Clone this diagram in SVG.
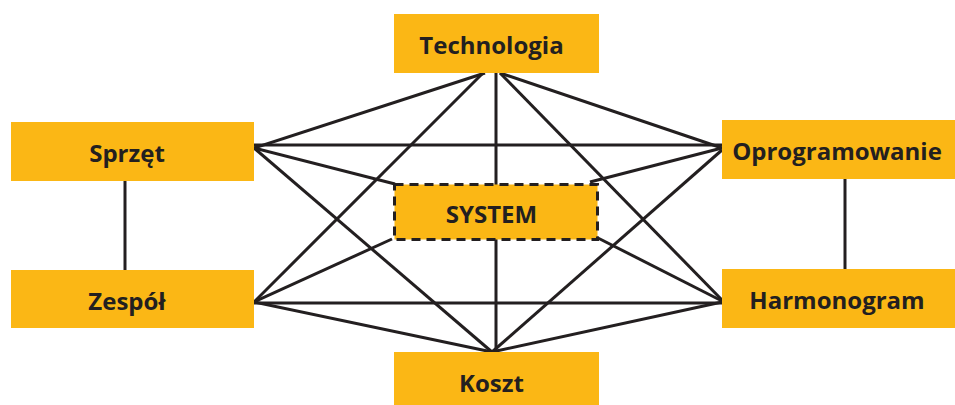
<svg xmlns="http://www.w3.org/2000/svg" width="955" height="405" viewBox="0 0 955 405">
<style>
.box{fill:#FBB715;}
.sys{fill:#FBB715;stroke:#231F20;stroke-width:3;stroke-dasharray:9 6;}
.lbl{font-family:"Open Sans","Liberation Sans",sans-serif;font-weight:700;font-size:24px;fill:#231F20;text-anchor:middle;}
#connectors line{stroke:#231F20;stroke-width:3;stroke-linecap:butt;}
</style>
<rect width="955" height="405" fill="#ffffff"/>
<g id="connectors">
<line x1="485" y1="73" x2="254" y2="148"/>
<line x1="483" y1="73" x2="254" y2="302"/>
<line x1="496" y1="73" x2="496" y2="352"/>
<line x1="500" y1="73" x2="722" y2="300"/>
<line x1="500" y1="73" x2="722" y2="148"/>
<line x1="254" y1="145" x2="722" y2="145"/>
<line x1="254" y1="148" x2="395" y2="184"/>
<line x1="254" y1="148" x2="492" y2="352"/>
<line x1="125" y1="181" x2="125" y2="270"/>
<line x1="254" y1="302" x2="392" y2="239"/>
<line x1="254" y1="303" x2="722" y2="303"/>
<line x1="254" y1="302" x2="492" y2="352"/>
<line x1="722" y1="148" x2="590" y2="182"/>
<line x1="722" y1="150" x2="492" y2="352"/>
<line x1="845" y1="179" x2="845" y2="269"/>
<line x1="722" y1="301" x2="596" y2="237"/>
<line x1="722" y1="302" x2="492" y2="352"/>
</g>
<g id="technologia"><rect class="box" x="394" y="14" width="205" height="59"/><text class="lbl" x="491.5" y="54">Technologia</text></g>
<g id="sprzet"><rect class="box" x="11" y="122" width="243" height="59"/><text class="lbl" x="127" y="162">Sprzęt</text></g>
<g id="oprogramowanie"><rect class="box" x="722" y="120" width="243" height="59"/><text class="lbl" x="837" y="160">Oprogramowanie</text></g>
<g id="system"><rect class="sys" x="394.5" y="184.5" width="203" height="55"/><text class="lbl" x="491.5" y="222.5">SYSTEM</text></g>
<g id="zespol"><rect class="box" x="11" y="270" width="243" height="58"/><text class="lbl" x="127" y="310">Zespół</text></g>
<g id="harmonogram"><rect class="box" x="722" y="269" width="243" height="59"/><text class="lbl" x="837" y="309">Harmonogram</text></g>
<g id="koszt"><rect class="box" x="394" y="352" width="205" height="58"/><text class="lbl" x="491.5" y="392">Koszt</text></g>
</svg>
